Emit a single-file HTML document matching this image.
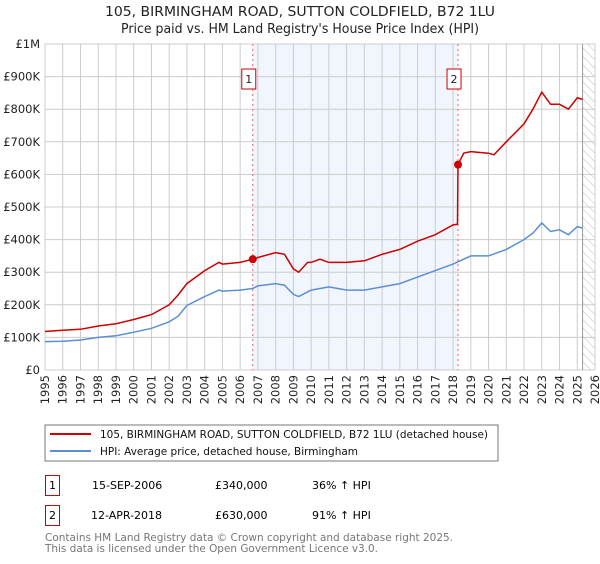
<!DOCTYPE html>
<html><head><meta charset="utf-8"><style>
body{margin:0;background:#fff;font-family:"DejaVu Sans","Liberation Sans",sans-serif;}
svg text{font-family:"DejaVu Sans","Liberation Sans",sans-serif;}
</style></head><body>
<svg id="c" width="600" height="560" xmlns="http://www.w3.org/2000/svg">
<defs><pattern id="hatch" width="6" height="6" patternUnits="userSpaceOnUse" patternTransform="rotate(-45)"><line x1="0" y1="0" x2="0" y2="6" stroke="#bbb" stroke-width="1"/></pattern></defs>
<text x="105" y="16" font-size="13" fill="#222" textLength="390" lengthAdjust="spacingAndGlyphs">105, BIRMINGHAM ROAD, SUTTON COLDFIELD, B72 1LU</text>
<text x="121" y="33" font-size="13" fill="#222" textLength="358" lengthAdjust="spacingAndGlyphs">Price paid vs. HM Land Registry's House Price Index (HPI)</text>
<g id="plot"></g>
<rect x="45" y="425" width="453" height="36" fill="#fff" stroke="#777"/>
<line x1="50" y1="434" x2="91" y2="434" stroke="#cc0000" stroke-width="2"/>
<text x="100" y="438" font-size="11" fill="#111" textLength="388" lengthAdjust="spacingAndGlyphs">105, BIRMINGHAM ROAD, SUTTON COLDFIELD, B72 1LU (detached house)</text>
<line x1="50" y1="451" x2="91" y2="451" stroke="#5b8fd4" stroke-width="2"/>
<text x="100" y="455" font-size="11" fill="#111" textLength="258" lengthAdjust="spacingAndGlyphs">HPI: Average price, detached house, Birmingham</text>
<g>
<rect x="45.5" y="475.5" width="14" height="20" fill="none" stroke="#cc0000"/>
<text x="52.5" y="489" text-anchor="middle" font-size="11">1</text>
<text x="92" y="489" font-size="11">15-SEP-2006</text>
<text x="215" y="489" font-size="11">£340,000</text>
<text x="312" y="489" font-size="11">36% ↑ HPI</text></g>
<g>
<rect x="45.5" y="505.5" width="14" height="20" fill="none" stroke="#cc0000"/>
<text x="52.5" y="519" text-anchor="middle" font-size="11">2</text>
<text x="91" y="519" font-size="11">12-APR-2018</text>
<text x="215" y="519" font-size="11">£630,000</text>
<text x="312" y="519" font-size="11">91% ↑ HPI</text></g>
<text x="45" y="541" font-size="11" fill="#777" textLength="408" lengthAdjust="spacingAndGlyphs">Contains HM Land Registry data © Crown copyright and database right 2025.</text>
<text x="45" y="552" font-size="11" fill="#777" textLength="333" lengthAdjust="spacingAndGlyphs">This data is licensed under the Open Government Licence v3.0.</text>
</svg>
<script>
const yearTicks=[1995,1996,1997,1998,1999,2000,2001,2002,2003,2004,2005,2006,2007,2008,2009,2010,2011,2012,2013,2014,2015,2016,2017,2018,2019,2020,2021,2022,2023,2024,2025,2026];
const yTicks=[0,100000,200000,300000,400000,500000,600000,700000,800000,900000,1000000];
const yTickLabels=["£0","£100K","£200K","£300K","£400K","£500K","£600K","£700K","£800K","£900K","£1M"];
const propYears=[1995,1996,1997,1998,1999,2000,2001,2002,2002.5,2003,2004,2004.8,2005,2006,2006.71,2007,2008,2008.5,2009,2009.3,2009.8,2010,2010.5,2011,2012,2013,2014,2015,2016,2017,2018,2018.25,2018.28,2018.6,2019,2020,2020.3,2021,2022,2022.5,2023,2023.5,2024,2024.5,2025,2025.3];
const propValues=[118,122,125,135,142,155,170,200,230,265,305,330,325,330,340,345,360,355,310,300,330,330,340,330,330,335,355,370,395,415,445,447,630,665,670,665,660,700,755,800,852,815,815,800,835,830];
const hpiYears=[1995,1996,1997,1998,1999,2000,2001,2002,2002.5,2003,2004,2004.8,2005,2006,2006.7,2007,2008,2008.5,2009,2009.3,2010,2011,2012,2013,2014,2015,2016,2017,2018,2019,2020,2021,2022,2022.5,2023,2023.5,2024,2024.5,2025,2025.3];
const hpiValues=[87,88,92,100,105,116,128,148,165,198,225,245,242,245,250,258,265,260,232,225,245,255,245,245,255,265,285,305,325,350,350,370,400,420,451,425,430,415,440,435];
const saleYears=[2006.71,2018.28];
const saleValues=[340,630];
const saleLabels=["1","2"];
const X0=45,X1=595,Y0=370,Y1=44,YMIN=1995,YMAX=2026;
const x=v=>X0+(v-YMIN)/(YMAX-YMIN)*(X1-X0);
const y=v=>Y0-v/1000000*(Y0-Y1);
const NS="http://www.w3.org/2000/svg",g=document.getElementById('plot');
function mk(t,a){const e=document.createElementNS(NS,t);for(const k in a)e.setAttribute(k,a[k]);g.appendChild(e);return e;}
let e=mk('rect',{x:x(saleYears[0]),y:Y1,width:x(saleYears[1])-x(saleYears[0]),height:Y0-Y1,fill:'#eef3fd',opacity:0.8});


e=mk('rect',{x:x(2025.3),y:Y1,width:X1-x(2025.3),height:Y0-Y1,fill:'url(#hatch)'});


yearTicks.forEach(t=>{e=mk('line',{x1:x(t),x2:x(t),y1:Y1,y2:Y0,stroke:'#ccc','stroke-width':1});


e=mk('text',{x:0,y:0,'font-size':11.5,fill:'#222','text-anchor':'end',transform:`translate(${x(t)+4},375) rotate(-90)`});e.textContent=t;

});
yTicks.forEach((t,i)=>{e=mk('line',{x1:X0,x2:X1,y1:y(t),y2:y(t),stroke:'#ccc','stroke-width':1});


e=mk('text',{x:40,y:y(t)+4,'font-size':11.5,fill:'#222','text-anchor':'end'});e.textContent=yTickLabels[i];

});
e=mk('line',{x1:x(2025.3),x2:x(2025.3),y1:Y1,y2:Y0,stroke:'#999','stroke-width':1});


saleYears.forEach((s,i)=>{e=mk('line',{x1:x(s),x2:x(s),y1:Y1,y2:Y0,stroke:'#e66','stroke-width':1,'stroke-dasharray':'2,3'});


e=mk('rect',{x:x(s)-11,y:69,width:14,height:20,fill:'#fff',stroke:'#cc0000'});


e=mk('text',{x:x(s)-4,y:83,'font-size':11,'text-anchor':'middle',fill:'#222'});e.textContent=saleLabels[i];

});
const pts=(xs,vs)=>xs.map((v,i)=>x(v).toFixed(1)+','+y(vs[i]*1000).toFixed(1)).join(' ');
e=mk('polyline',{points:pts(hpiYears,hpiValues),fill:'none',stroke:'#5b8fd4','stroke-width':1.5});


e=mk('polyline',{points:pts(propYears,propValues),fill:'none',stroke:'#cc0000','stroke-width':1.5});


saleYears.forEach((s,i)=>{e=mk('circle',{cx:x(s),cy:y(saleValues[i]*1000),r:4,fill:'#cc0000'});

});
</script>
</body></html>
